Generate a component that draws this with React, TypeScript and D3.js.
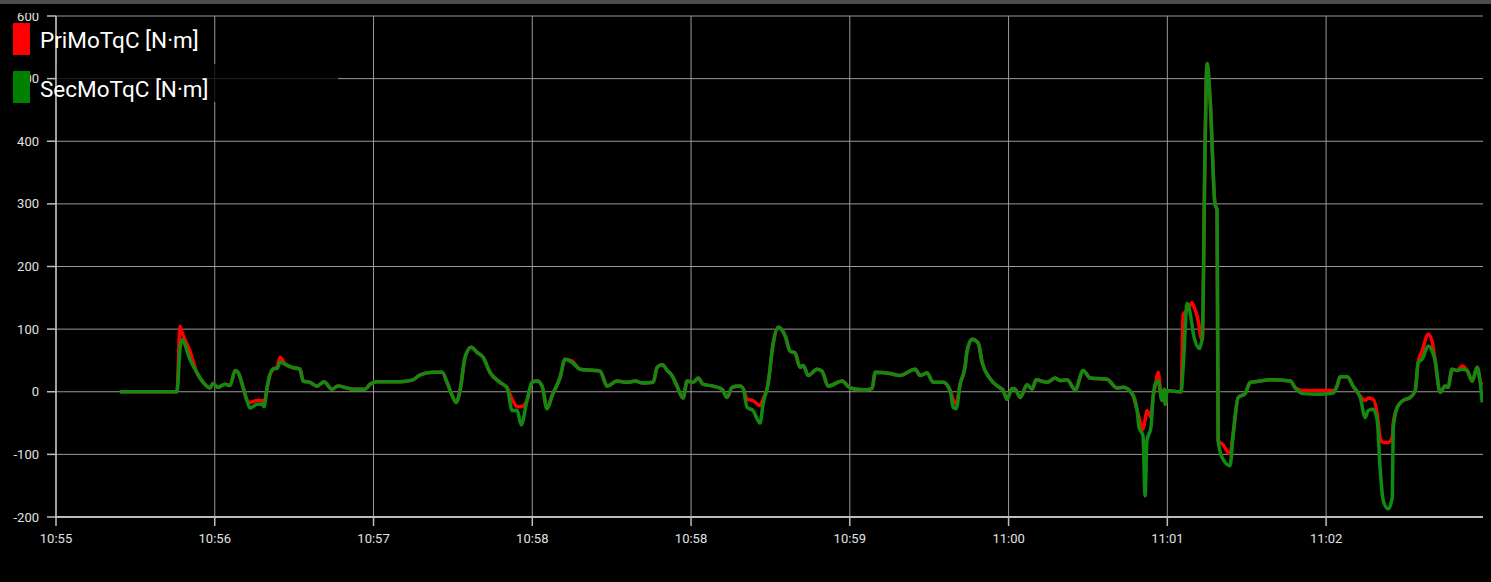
import React from "react";
import * as d3 from "d3";

// seconds since 10:55:00
const times = [
  24.2, 45.7, 46.9, 47.6, 50.6, 53.3, 55.6, 58.2, 59.3, 61.2, 63.9, 65.8, 67.7, 68.8, 70.7, 72.2, 73.3, 76, 77.9, 78.6,
  79.8, 80.9, 82.4, 83.5, 84.7, 86.6, 89.2, 92.2, 93.4, 96, 98.6, 101.3, 104.3, 106.6, 112.3, 116.8, 118.7, 121.3, 130, 134.9,
  137.6, 142.5, 145.9, 147.8, 149.7, 151.2, 152.7, 154.6, 156.9, 159.1, 161.4, 164, 167.8, 170.5, 172.4, 174.3, 175.8, 178, 179.9, 181.8,
  183.7, 185.6, 187.5, 190.5, 192.4, 195, 198.1, 203.7, 205.6, 208.3, 212, 215.8, 218.9, 221.9, 225.7, 227.2, 229.1, 231, 232.8, 234.7,
  237, 238.5, 240.8, 242.7, 244.5, 248.3, 251.7, 253.6, 255.5, 258.5, 259.7, 261.2, 263.4, 266.1, 267.2, 269.1, 271, 272.9, 275.6, 277.4,
  279.3, 281.2, 282.4, 284.3, 287.6, 289.5, 291.8, 297.1, 300.1, 305, 308.4, 309.6, 315.2, 319, 324.7, 326.6, 329.2, 331.5, 335.3, 337.9,
  339.1, 340.2, 341.7, 343.6, 344.3, 346.2, 348.5, 350, 353, 356.8, 357.9, 359.4, 361.3, 362.5, 364.4, 367, 368.9, 370.4, 374.6, 377.6,
  379.5, 382.1, 385.2, 388.2, 390.8, 393.4, 397.2, 401, 403.3, 406.7, 408.6, 409.3, 410.8, 411.6, 412.3, 413.8, 414.6, 415.7, 416.5, 418,
  418.8, 419.2, 419.9, 424.5, 425.2, 426, 427.5, 429.4, 429.8, 432.2, 432.4, 433.2, 434.3, 435, 436.2, 438, 438.8, 439.2, 440.7, 443.7,
  444.9, 446.8, 449.4, 451.3, 455.1, 458.9, 466.5, 468.4, 471.3, 476.6, 482.7, 484.2, 485.3, 488, 490.2, 492.9, 494.8, 495.9, 497.8, 499.3,
  500.4, 501.6, 503.5, 505, 505.4, 506.9, 509.1, 511.8, 513.7, 514.8, 516.3, 518.6, 520.1, 521.2, 523.1, 525, 526.1, 527.6, 529.5, 531.4,
  533.3, 535.2, 537.1, 538.2, 539,
];

const priMoTqC = [
  0, 0, 104, 95, 65, 30, 15, 6, 13, 7, 12, 10, 34, 31, 7, -14, -17, -14, -14, -18,
  7, 28, 37, 39, 55, 44, 39, 36, 17, 15, 9, 16, 4, 9, 4, 4, 12, 16, 16, 19,
  27, 31, 31, 15, -6, -17, 2, 55, 71, 63, 55, 31, 15, 6, -12, -24, -24, -14, 15, 17,
  9, -27, -6, 23, 52, 49, 36, 34, 33, 9, 17, 15, 17, 14, 15, 39, 43, 34, 26, 9,
  -10, 17, 15, 22, 12, 9, 4, -9, 7, 9, 5, -12, -14, -22, -12, 12, 76, 103, 89, 65,
  62, 39, 42, 26, 36, 33, 9, 17, 6, 3, 5, 31, 29, 26, 36, 26, 30, 15, 15, 2,
  -13, -20, 12, 41, 65, 84, 78, 47, 21, 6, 3, -12, 5, 4, -9, 11, 4, 19, 15, 22,
  18, 19, 3, 34, 22, 21, 20, 6, 7, -3, -30, -41, -60, -45, -30, -40, -9, 15, 31, -14,
  4, -20, 2, 0, 0, 124, 130, 142, 138, 100, 93, 82, 401, 524, 465, 300, 290, -78, -83, -99,
  -67, -9, -3, 15, 17, 19, 17, 6, 2, 2, 2, 10, 24, 24, 9, -7, -14, -10, -12, -35,
  -73, -81, -81, -73, -50, -25, -14, -9, 2, 47, 65, 92, 80, 50, -1, 9, 7, 36, 34, 41,
  34, 17, 39, 17, 10,
];

const secMoTqC = [
  0, 0, 70, 83, 52, 30, 15, 6, 13, 7, 12, 10, 34, 31, 7, -14, -26, -20, -20, -24,
  7, 28, 37, 37, 47, 44, 39, 36, 17, 15, 9, 16, 4, 9, 4, 4, 12, 16, 16, 19,
  27, 31, 31, 15, -6, -17, 2, 55, 71, 63, 55, 31, 15, 6, -30, -30, -53, -14, 15, 17,
  9, -27, -6, 23, 52, 47, 36, 34, 33, 9, 17, 15, 17, 14, 15, 39, 43, 34, 26, 9,
  -10, 17, 15, 22, 12, 9, 4, -9, 7, 9, 5, -25, -30, -50, -20, 12, 76, 103, 89, 65,
  62, 39, 42, 26, 36, 33, 9, 17, 6, 3, 5, 31, 29, 26, 36, 26, 30, 15, 15, 2,
  -25, -27, 12, 41, 65, 84, 78, 47, 21, 6, 3, -12, 5, 4, -9, 11, 4, 19, 15, 22,
  18, 19, 3, 34, 22, 21, 20, 6, 7, -3, -30, -57, -70, -166, -78, -57, -9, 15, 17, -14,
  4, -20, 2, 0, 0, 40, 141, 105, 93, 69, 72, 86, 401, 524, 465, 300, 290, -78, -105, -118,
  -67, -9, -3, 15, 17, 19, 17, 6, -3, -4, -2, 10, 24, 24, 9, -9, -41, -30, -28, -45,
  -121, -174, -187, -169, -57, -25, -14, -9, 2, 47, 52, 73, 65, 50, -1, 9, 7, 36, 34, 36,
  34, 17, 39, 17, -17,
];

const xTickSeconds = [0, 60, 120, 180, 240, 300, 360, 420, 480];
const xTickLabels = ["10:55", "10:56", "10:57", "10:58", "10:58", "10:59", "11:00", "11:01", "11:02"];
const yTickValues = [-200, -100, 0, 100, 200, 300, 400, 500, 600];
const seriesNames = ["PriMoTqC [N·m]", "SecMoTqC [N·m]"];
const seriesColors = ["#ff0000", "#108a10"];

const W = 1491;
const H = 582;
const LEFT = 56;
const RIGHT = 1483;
const TOP = 16;
const BOTTOM = 517;

export default function App() {
  const x = d3.scaleLinear().domain([0, 539.3]).range([LEFT, RIGHT]);
  const y = d3.scaleLinear().domain([-200, 600]).range([BOTTOM, TOP]);

  const mk = (vals: number[]) =>
    d3
      .line<number>()
      .x((_, i) => x(times[i]))
      .y((v) => y(v))
      .curve(d3.curveMonotoneX)(vals) || "";

  const font = "Roboto, 'Noto Sans', sans-serif";

  return (
    <svg
      width={W}
      height={H}
      style={{ position: "absolute", left: 0, top: 0, display: "block", background: "#000" }}
    >
      <rect x={0} y={0} width={W} height={H} fill="#000" />
      <defs>
        <clipPath id="ylab">
          <rect x={0} y={13} width={60} height={H} />
        </clipPath>
        <clipPath id="plot">
          <rect x={LEFT} y={TOP - 2} width={RIGHT - LEFT} height={BOTTOM - TOP + 2} />
        </clipPath>
      </defs>
      <rect x={0} y={0} width={W} height={4} fill="#4d4d4d" />

      {/* horizontal grid */}
      {yTickValues.map((v) => (
        <line key={"hg" + v} x1={LEFT} x2={RIGHT} y1={y(v)} y2={y(v)} stroke="#9a9a9a" strokeWidth={1} />
      ))}
      {/* vertical grid */}
      {xTickSeconds.map((s) => (
        <line key={"vg" + s} x1={x(s)} x2={x(s)} y1={TOP} y2={BOTTOM} stroke="#9a9a9a" strokeWidth={1} />
      ))}

      {/* legend dim box */}
      <rect x={LEFT} y={64} width={338 - LEFT} height={38} fill="#000" opacity={0.8} />

      {/* axes */}
      <line x1={LEFT} x2={LEFT} y1={TOP} y2={BOTTOM + 1} stroke="#bdbdbd" strokeWidth={1.5} />
      <line x1={LEFT - 1} x2={RIGHT} y1={BOTTOM} y2={BOTTOM} stroke="#bdbdbd" strokeWidth={2} />
      {yTickValues.map((v) => (
        <line key={"yt" + v} x1={LEFT - 9} x2={LEFT} y1={y(v)} y2={y(v)} stroke="#bdbdbd" strokeWidth={1.5} />
      ))}
      {xTickSeconds.map((s) => (
        <line key={"xt" + s} x1={x(s)} x2={x(s)} y1={BOTTOM} y2={BOTTOM + 9} stroke="#bdbdbd" strokeWidth={1.5} />
      ))}
      <g clipPath="url(#ylab)">
        {yTickValues.map((v) => (
          <text
            key={"yl" + v}
            x={39}
            y={y(v)}
            dy="0.35em"
            textAnchor="end"
            fontFamily={font}
            fontSize={13}
            fill="#e0e0e0"
          >
            {v}
          </text>
        ))}
      </g>
      {xTickSeconds.map((s, i) => (
        <text
          key={"xl" + s}
          x={x(s)}
          y={543}
          textAnchor="middle"
          fontFamily={font}
          fontSize={13}
          fill="#e0e0e0"
        >
          {xTickLabels[i]}
        </text>
      ))}

      {/* series */}
      <g clipPath="url(#plot)">
        <path d={mk(priMoTqC)} fill="none" stroke={seriesColors[0]} strokeWidth={3.5} strokeLinejoin="round" />
        <path d={mk(secMoTqC)} fill="none" stroke={seriesColors[1]} strokeWidth={3.5} strokeLinejoin="round" />
      </g>

      {/* legend */}
      {seriesNames.map((n, i) => (
        <g key={n}>
          <rect x={13} y={23 + i * 48} width={17} height={32} fill={i === 0 ? "#ff0000" : "#008000"} />
          <text x={40} y={48 + i * 49} fontFamily={font} fontSize={22.5} fill="#ffffff">
            {n}
          </text>
        </g>
      ))}
    </svg>
  );
}
